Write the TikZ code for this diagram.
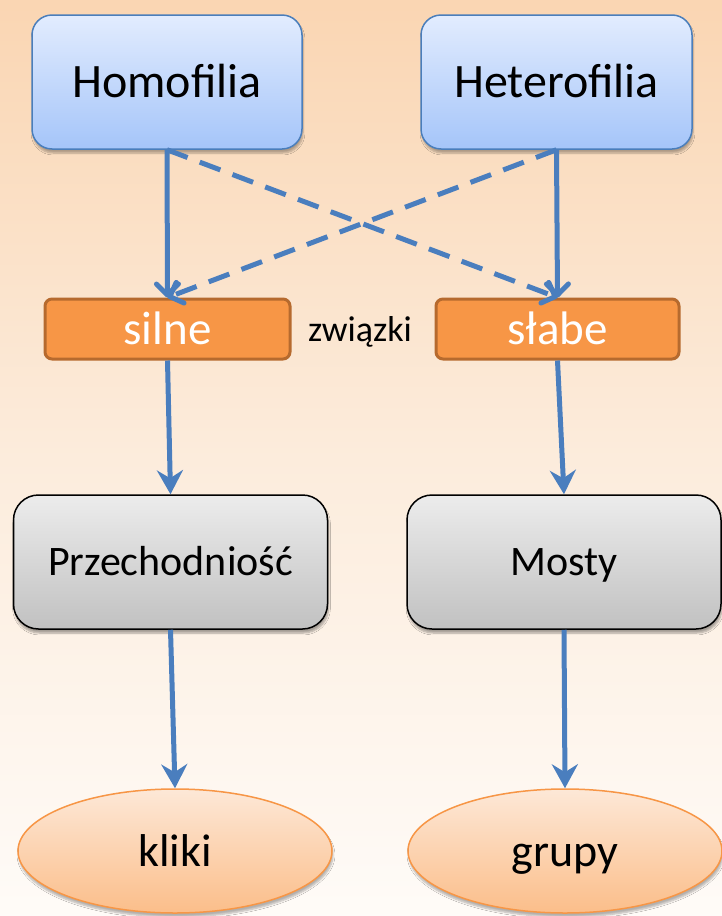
\documentclass[tikz,border=0pt]{standalone}
\usepackage{fontspec}
\setmainfont{Carlito}
\usetikzlibrary{arrows.meta,shapes.geometric,shadows.blur,positioning}
\definecolor{bgtop}{RGB}{247,191,137}
\definecolor{bgmid}{RGB}{252,236,220}
\definecolor{bgbot}{RGB}{255,253,251}
\definecolor{bluetop}{RGB}{226,236,254}
\definecolor{bluebot}{RGB}{165,197,249}
\definecolor{blueline}{RGB}{74,126,187}
\definecolor{arrowc}{RGB}{74,126,190}
\definecolor{orfill}{RGB}{247,150,70}
\definecolor{orline}{RGB}{182,106,46}
\definecolor{graytop}{RGB}{236,236,236}
\definecolor{graybot}{RGB}{193,193,193}
\definecolor{elltop}{RGB}{253,232,215}
\definecolor{ellbot}{RGB}{251,190,138}
\definecolor{ellline}{RGB}{247,150,70}
\pgfdeclareverticalshading{bgshade}{100bp}{color(0bp)=(bgbot); color(22bp)=(bgbot); color(50bp)=(bgmid); color(100bp)=(bgtop)}
\tikzset{
  bluebox/.style={rectangle, rounded corners=20pt, draw=blueline, line width=1.5pt,
    top color=bluetop, bottom color=bluebot, minimum width=270pt, minimum height=134pt,
    font=\fontsize{48}{52}\selectfont, text=black, text height=31pt, text depth=0pt,
    blur shadow={shadow xshift=1pt, shadow yshift=-4pt, shadow blur steps=6, shadow opacity=30}},
  orbox/.style={rectangle, rounded corners=7pt, draw=orline, line width=3pt,
    fill=orfill, minimum width=243pt, minimum height=60pt, inner sep=0pt,
    font=\fontsize{47}{50}\selectfont, text=white, text height=30pt, text depth=0pt},
  graybox/.style={rectangle, rounded corners=25pt, draw=black, line width=1.5pt,
    top color=graytop, bottom color=graybot, minimum width=314pt, minimum height=134pt,
    font=\fontsize{42}{46}\selectfont, text=black, text height=27pt, text depth=0pt,
    blur shadow={shadow xshift=1pt, shadow yshift=-4pt, shadow blur steps=6, shadow opacity=35}},
  ellnode/.style={ellipse, draw=ellline, line width=1.5pt,
    top color=elltop, bottom color=ellbot, minimum width=314pt, minimum height=124pt,
    inner sep=0pt, font=\fontsize{46}{50}\selectfont, text=black, text height=30pt, text depth=0pt,
    blur shadow={shadow xshift=1pt, shadow yshift=-4pt, shadow blur steps=6, shadow opacity=30}},
  lbl/.style={font=\fontsize{36}{40}\selectfont, text=black, text height=23pt, text depth=0pt},
  solidarr/.style={draw=arrowc, line width=5pt,
    -{Straight Barb[length=11pt, width=22pt, line width=5pt, round]}},
  dasharr/.style={draw=arrowc, line width=5pt, dash pattern=on 22pt off 13pt,
    -{Straight Barb[length=11pt, width=22pt, line width=5pt, round]}},
  lowarr/.style={draw=arrowc, line width=5pt,
    -{Stealth[length=24pt, width=26pt, inset=8pt]}}
}
\begin{document}
\begin{tikzpicture}[x=1pt, y=-1pt]
\useasboundingbox (0,0) rectangle (722,916);
\shade[shading=bgshade] (0,0) rectangle (722,916);

\node[bluebox] (homo) at (167,82) {Homofilia};
\node[bluebox, minimum width=271pt] (hetero) at (556.5,82) {Heterofilia};

\node[orbox, minimum width=245pt] (silne) at (167.5,329) {silne};
\node[orbox] (slabe) at (557.5,329) {słabe};
\node[lbl] (zw) at (360,330) {związki};

\node[graybox] (przech) at (170.5,562) {Przechodniość};
\node[graybox] (mosty) at (564,562) {Mosty};

\node[ellnode] (kliki) at (175,851) {kliki};
\node[ellnode] (grupy) at (565,851) {grupy};

\draw[solidarr] (homo.south) -- (silne.north);
\draw[solidarr] (hetero.south) -- (slabe.north);
\draw[dasharr] (homo.south) -- (slabe.north);
\draw[dasharr] (hetero.south) -- (silne.north);

\draw[lowarr] (silne.south) -- (przech.north);
\draw[lowarr] (slabe.south) -- (mosty.north);
\draw[lowarr] (przech.south) -- (kliki.north);
\draw[lowarr] (mosty.south) -- (grupy.north);
\end{tikzpicture}
\end{document}
